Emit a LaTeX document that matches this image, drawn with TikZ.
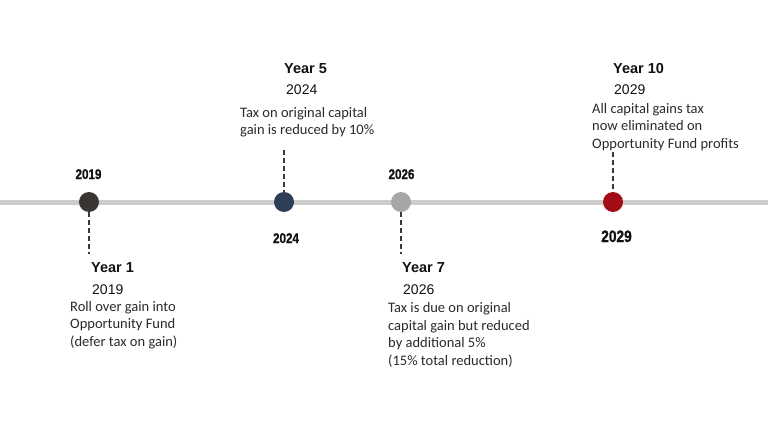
\documentclass[tikz,border=0pt]{standalone}
\usepackage{fontspec}
\setmainfont{Liberation Sans}
\newfontfamily\bodyfont{Carlito}
\newfontfamily\yrfont[FakeStretch=0.83,FakeBold=1]{Liberation Sans Bold}
\definecolor{tlgray}{HTML}{CCCCCC}
\definecolor{dotA}{HTML}{3A3533}
\definecolor{dotB}{HTML}{2E3E56}
\definecolor{dotC}{HTML}{A6A6A6}
\definecolor{dotD}{HTML}{A20C15}
\definecolor{leadcol}{HTML}{3A3A3A}
\definecolor{txt}{HTML}{111111}
\definecolor{bodytxt}{HTML}{2A2A2A}
\tikzset{
  tline/.style={line width=5pt, draw=tlgray},
  dot/.style={circle, minimum size=20pt, inner sep=0pt},
  yrlab/.style={font=\yrfont\fontsize{14}{14}\selectfont, anchor=base, inner sep=0pt, text=txt},
  yrbig/.style={font=\yrfont\fontsize{16.5}{16.5}\selectfont, anchor=base, inner sep=0pt, text=txt},
  head/.style={font=\bfseries\fontsize{14.5}{16}\selectfont, anchor=base west, inner sep=0pt, text=txt},
  subyr/.style={font=\fontsize{14}{16}\selectfont, anchor=base west, inner sep=0pt, text=txt},
  bodytext/.style={font=\bodyfont\fontsize{14.5}{17.5}\selectfont, align=left, anchor=north west, inner sep=0pt, text=bodytxt},
  leader/.style={draw=leadcol, line width=1.5pt, dash pattern=on 5pt off 3pt},
}
\begin{document}
\begin{tikzpicture}[x=1pt,y=-1pt]
\useasboundingbox (0,0) rectangle (768,433);
% timeline
\coordinate (L) at (0,202);
\coordinate (R) at (768,202);
\draw[tline] (L) -- (R);
% dots
\node[dot, fill=dotA] (c1) at (89,202) {};
\node[dot, fill=dotB] (c2) at (284,202) {};
\node[dot, fill=dotC] (c3) at (401,202) {};
\node[dot, fill=dotD] (c4) at (613,202) {};
% leaders
\coordinate (d1) at (89,254);
\coordinate (d2) at (284,150);
\coordinate (d3) at (401,254);
\coordinate (d4) at (613,152);
\draw[leader] (c1.south) -- (d1);
\draw[leader] (d2) -- (c2.north);
\draw[leader] (c3.south) -- (d3);
\draw[leader] (d4) -- (c4.north);
% year labels on the line
\node[yrlab] (y1) at (88.5,179) {2019};
\node[yrlab] (y2) at (286,243) {2024};
\node[yrlab] (y3) at (401.5,179) {2026};
\node[yrbig] (y4) at (616.5,242) {2029};
% Year 1
\node[head] (h1) at (91,272.5) {Year 1};
\node[subyr] (s1) at (92,294) {2019};
\node[bodytext] (b1) at (70,301) {Roll over gain into\\Opportunity Fund\\(defer tax on gain)};
% Year 5
\node[head] (h2) at (284,73.5) {Year 5};
\node[subyr] (s2) at (286,95) {2024};
\node[bodytext] (b2) at (240,107) {Tax on original capital\\gain is reduced by 10\%};
% Year 7
\node[head] (h3) at (402,272.5) {Year 7};
\node[subyr] (s3) at (403,294) {2026};
\node[bodytext] (b3) at (388,302.7) {Tax is due on original\\capital gain but reduced\\by additional 5\%\\(15\% total reduction)};
% Year 10
\node[head] (h4) at (613,74) {Year 10};
\node[subyr] (s4) at (614,95) {2029};
\node[bodytext] (b4) at (592,103) {All capital gains tax\\now eliminated on\\Opportunity Fund profits};
\end{tikzpicture}
\end{document}
